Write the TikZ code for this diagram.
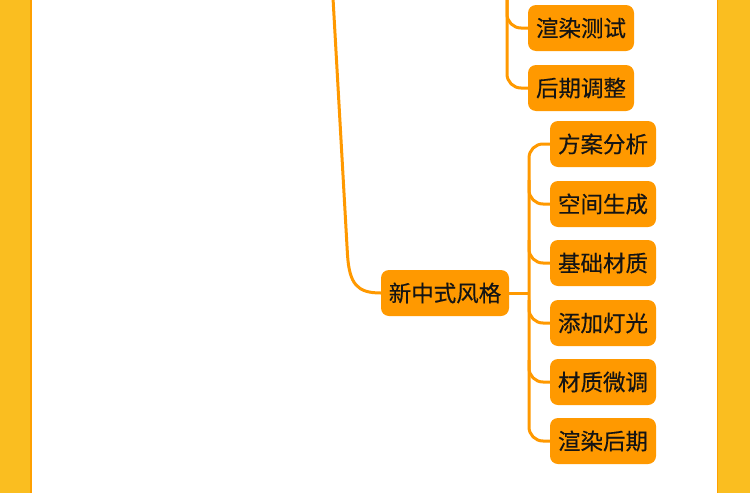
\documentclass[tikz,border=0pt]{standalone}
\usepackage{fontspec}
\setmainfont{Noto Sans CJK SC}
\newfontfamily\cjkn[UprightFeatures={FakeBold=0.3}]{Noto Sans CJK SC}
\definecolor{bandC}{RGB}{250,190,32}
\definecolor{edgeC}{RGB}{255,160,0}
\definecolor{nodeC}{RGB}{255,153,0}
\definecolor{lineC}{RGB}{255,153,0}
\definecolor{txtC}{RGB}{20,20,20}
\begin{document}
\begin{tikzpicture}[x=1pt,y=-1pt,
  leaf/.style={fill=nodeC, rounded corners=8pt, minimum width=106pt, minimum height=46pt,
    inner sep=0pt, text=txtC, font=\cjkn\fontsize{22.5pt}{24pt}\selectfont},
  conn/.style={draw=lineC, line width=3pt},
  rc/.style={rounded corners=14pt}]
\useasboundingbox (0,0) rectangle (750,493);
% background and side bands
\fill[white] (0,0) rectangle (750,493);
\fill[bandC] (0,0) rectangle (30,493);
\fill[edgeC] (30,0) rectangle (31.5,493);
\fill[bandC] (718,0) rectangle (750,493);
\fill[edgeC] (716.5,0) rectangle (718,493);
% nodes
\node[leaf, minimum width=128pt] (xzs) at (445,293) {新中式风格};
\node[leaf] (xrcs) at (581,28) {渲染测试};
\node[leaf] (hqtz) at (581,88) {后期调整};
\node[leaf] (fafx) at (603,144) {方案分析};
\node[leaf] (kjsc) at (603,204) {空间生成};
\node[leaf] (jccz) at (603,263) {基础材质};
\node[leaf] (tjdg) at (603,323) {添加灯光};
\node[leaf] (czwt) at (603,382) {材质微调};
\node[leaf] (xrhq) at (603,441) {渲染后期};
% free ends at top
\coordinate (topA) at (333,-2);
\coordinate (topB) at (507,-2);
\coordinate (bus) at (529,293);
% main curve from above into 新中式风格
\draw[conn] (topA) -- (347.5,255) .. controls (349.5,284) and (357,293) .. (xzs.west);
% upper branch
\draw[conn, rc] (topB) |- (xrcs.west);
\draw[conn, rc] (topB) |- (hqtz.west);
% lower bus
\draw[conn] (xzs.east) -- (bus);
\draw[conn, rc] (fafx.west) -| (bus) |- (xrhq.west);
\draw[conn, rc] (529,180) |- (kjsc.west);
\draw[conn, rc] (529,240) |- (jccz.west);
\draw[conn, rc] (529,300) |- (tjdg.west);
\draw[conn, rc] (529,360) |- (czwt.west);
\end{tikzpicture}
\end{document}
